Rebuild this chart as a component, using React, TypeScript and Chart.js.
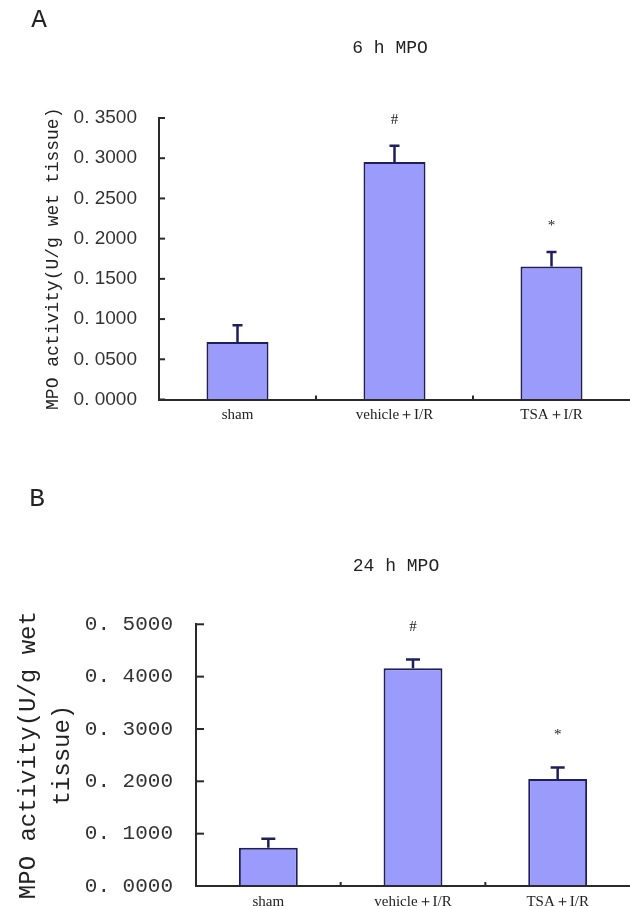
import { useEffect, useRef } from 'react';
import { Chart, registerables } from 'chart.js';

Chart.register(...registerables);

// ---------- data ----------
const categories = ['sham', 'vehicle＋I/R', 'TSA＋I/R'];

const meansA = [0.0714, 0.2954, 0.1654];
const errorsA = [0.021, 0.020, 0.018];
const marksA = ['', '#', '*'];
const yTicksA = [0, 0.05, 0.1, 0.15, 0.2, 0.25, 0.3, 0.35];
const yTickLabelsA = ['0. 0000', '0. 0500', '0. 1000', '0. 1500', '0. 2000', '0. 2500', '0. 3000', '0. 3500'];

const meansB = [0.0732, 0.4159, 0.2044];
const errorsB = [0.017, 0.017, 0.022];
const marksB = ['', '#', '*'];
const yTicksB = [0, 0.1, 0.2, 0.3, 0.4, 0.5];
const yTickLabelsB = ['0. 0000', '0. 1000', '0. 2000', '0. 3000', '0. 4000', '0. 5000'];

const titleA = '6 h MPO';
const titleB = '24 h MPO';
const yTitleA = 'MPO activity(U/g wet tissue)';
const yTitleB = ['MPO activity(U/g wet', 'tissue)'];

// ---------- styles ----------
const BAR_FILL = '#9b9bfb';
const BAR_EDGE = '#1f1f5e';
const AXIS = '#2a2a2a';
const TEXT = '#222222';

const decorPlugin = {
  id: 'decor',
  afterDraw(chart: any, _args: any, opts: any) {
    const { ctx, chartArea } = chart;
    const xs = chart.scales.x;
    const ys = chart.scales.y;
    const meta = chart.getDatasetMeta(0);
    ctx.save();
    // inward y tick marks
    ctx.strokeStyle = AXIS;
    ctx.lineWidth = 2;
    ys.ticks.forEach((t: any) => {
      const py = ys.getPixelForValue(t.value);
      ctx.beginPath();
      ctx.moveTo(chartArea.left, py);
      ctx.lineTo(chartArea.left + opts.yTickLen, py);
      ctx.stroke();
    });
    // category separators on x axis
    for (let i = 1; i < categories.length; i++) {
      const px = (xs.getPixelForValue(i - 1) + xs.getPixelForValue(i)) / 2;
      ctx.beginPath();
      ctx.moveTo(px, chartArea.bottom);
      ctx.lineTo(px, chartArea.bottom - 4);
      ctx.stroke();
    }
    // error bars and marks
    meta.data.forEach((bar: any, i: number) => {
      const yBase = ys.getPixelForValue(opts.means[i]);
      const yTop = ys.getPixelForValue(opts.means[i] + opts.errors[i]);
      ctx.strokeStyle = BAR_EDGE;
      ctx.lineWidth = 2.5;
      ctx.beginPath();
      ctx.moveTo(bar.x, yBase);
      ctx.lineTo(bar.x, yTop);
      ctx.moveTo(bar.x - opts.capHalf, yTop);
      ctx.lineTo(bar.x + opts.capHalf, yTop);
      ctx.stroke();
      if (opts.marks[i]) {
        ctx.fillStyle = TEXT;
        ctx.font = '15px "Liberation Serif"';
        ctx.textAlign = 'center';
        ctx.textBaseline = 'middle';
        ctx.fillText(opts.marks[i], bar.x, yTop - opts.markGap);
      }
    });
    ctx.restore();
  },
};

type Panel = {
  means: number[];
  errors: number[];
  marks: string[];
  ticks: number[];
  tickLabels: string[];
  max: number;
  yTitle: string | string[];
  height: number;
  top: number;
  bottom: number;
  left: number;
  barPct: number;
  tickFont: any;
  tickPad: number;
  titleFont: any;
  titlePad: number;
  xPad: number;
  yTickLen: number;
  capHalf: number;
  markGap: number;
};

function makeChart(canvas: HTMLCanvasElement, p: Panel) {
  return new Chart(canvas, {
    type: 'bar',
    data: {
      labels: categories,
      datasets: [
        {
          data: p.means,
          backgroundColor: BAR_FILL,
          borderColor: BAR_EDGE,
          borderWidth: 2,
          borderSkipped: 'start',
          barPercentage: p.barPct,
          categoryPercentage: 1,
        },
      ],
    },
    options: {
      animation: false,
      responsive: false,
      events: [],
      layout: { padding: { top: p.top, left: 0, right: 0, bottom: 0 } },
      plugins: {
        legend: { display: false },
        tooltip: { enabled: false },
        title: { display: false },
        decor: {
          means: p.means,
          errors: p.errors,
          marks: p.marks,
          yTickLen: p.yTickLen,
          capHalf: p.capHalf,
          markGap: p.markGap,
        },
      } as any,
      scales: {
        x: {
          type: 'category',
          offset: true,
          grid: { display: false, drawTicks: false },
          border: { display: true, color: AXIS, width: 2, z: 1 } as any,
          ticks: {
            color: TEXT,
            font: { family: '"Liberation Serif"', size: 15 },
            padding: p.xPad,
            maxRotation: 0,
            autoSkip: false,
          },
          afterFit: (s: any) => {
            s.height = p.height - p.bottom;
            s.paddingLeft = 0;
            s.paddingRight = 0;
          },
        },
        y: {
          min: 0,
          max: p.max,
          afterBuildTicks: (s: any) => {
            s.ticks = p.ticks.map((v) => ({ value: v }));
          },
          grid: { display: false, drawTicks: false },
          border: { display: true, color: AXIS, width: 2 },
          ticks: {
            color: '#333333',
            font: p.tickFont,
            padding: p.tickPad,
            callback: (_v: any, i: number) => p.tickLabels[i],
          },
          title: {
            display: true,
            text: p.yTitle,
            color: TEXT,
            font: p.titleFont,
            padding: { top: p.titlePad, bottom: 0 },
          },
          afterFit: (s: any) => {
            s.width = p.left;
            s.paddingTop = 0;
            s.paddingBottom = 0;
          },
        },
      },
    },
    plugins: [decorPlugin as any],
  });
}

const panelA: Panel = {
  means: meansA,
  errors: errorsA,
  marks: marksA,
  ticks: yTicksA,
  tickLabels: yTickLabelsA,
  max: 0.35,
  yTitle: yTitleA,
  height: 453,
  top: 118,
  bottom: 399.5,
  left: 159,
  barPct: 0.395,
  tickFont: { family: '"Liberation Sans"', size: 19 },
  tickPad: 22,
  titleFont: { family: '"Liberation Mono"', size: 18, lineHeight: 1.2 },
  titlePad: 42,
  xPad: 7,
  yTickLen: 6,
  capHalf: 5,
  markGap: 26,
};

const panelB: Panel = {
  means: meansB,
  errors: errorsB,
  marks: marksB,
  ticks: yTicksB,
  tickLabels: yTickLabelsB,
  max: 0.5,
  yTitle: yTitleB,
  height: 453,
  top: 171.3,
  bottom: 433,
  left: 196,
  barPct: 0.407,
  tickFont: { family: '"Liberation Mono"', size: 21 },
  tickPad: 23,
  titleFont: { family: '"Liberation Mono"', size: 24, lineHeight: 34 / 24 },
  titlePad: 12,
  xPad: 7,
  yTickLen: 8,
  capHalf: 7,
  markGap: 32,
};

const textStyle = (x: number, y: number, size: number): React.CSSProperties => ({
  position: 'absolute',
  left: x,
  top: y,
  transform: 'translate(-50%, -50%)',
  fontFamily: '"Liberation Mono", monospace',
  fontSize: size,
  color: TEXT,
  whiteSpace: 'pre',
  lineHeight: 1,
});

export default function App() {
  const refA = useRef<HTMLCanvasElement>(null);
  const refB = useRef<HTMLCanvasElement>(null);

  useEffect(() => {
    const a = makeChart(refA.current!, panelA);
    const b = makeChart(refB.current!, panelB);
    return () => {
      a.destroy();
      b.destroy();
    };
  }, []);

  return (
    <div style={{ position: 'absolute', left: 0, top: 0, width: 630, height: 906, background: '#fff', overflow: 'hidden' }}>
      <canvas ref={refA} width={630} height={453} style={{ position: 'absolute', left: 0, top: 0 }} />
      <canvas ref={refB} width={630} height={453} style={{ position: 'absolute', left: 0, top: 453 }} />
      <div style={textStyle(39, 20, 26)}>A</div>
      <div style={textStyle(37, 499, 26)}>B</div>
      <div style={textStyle(390, 48, 18)}>{titleA}</div>
      <div style={textStyle(396, 566, 18)}>{titleB}</div>
    </div>
  );
}
